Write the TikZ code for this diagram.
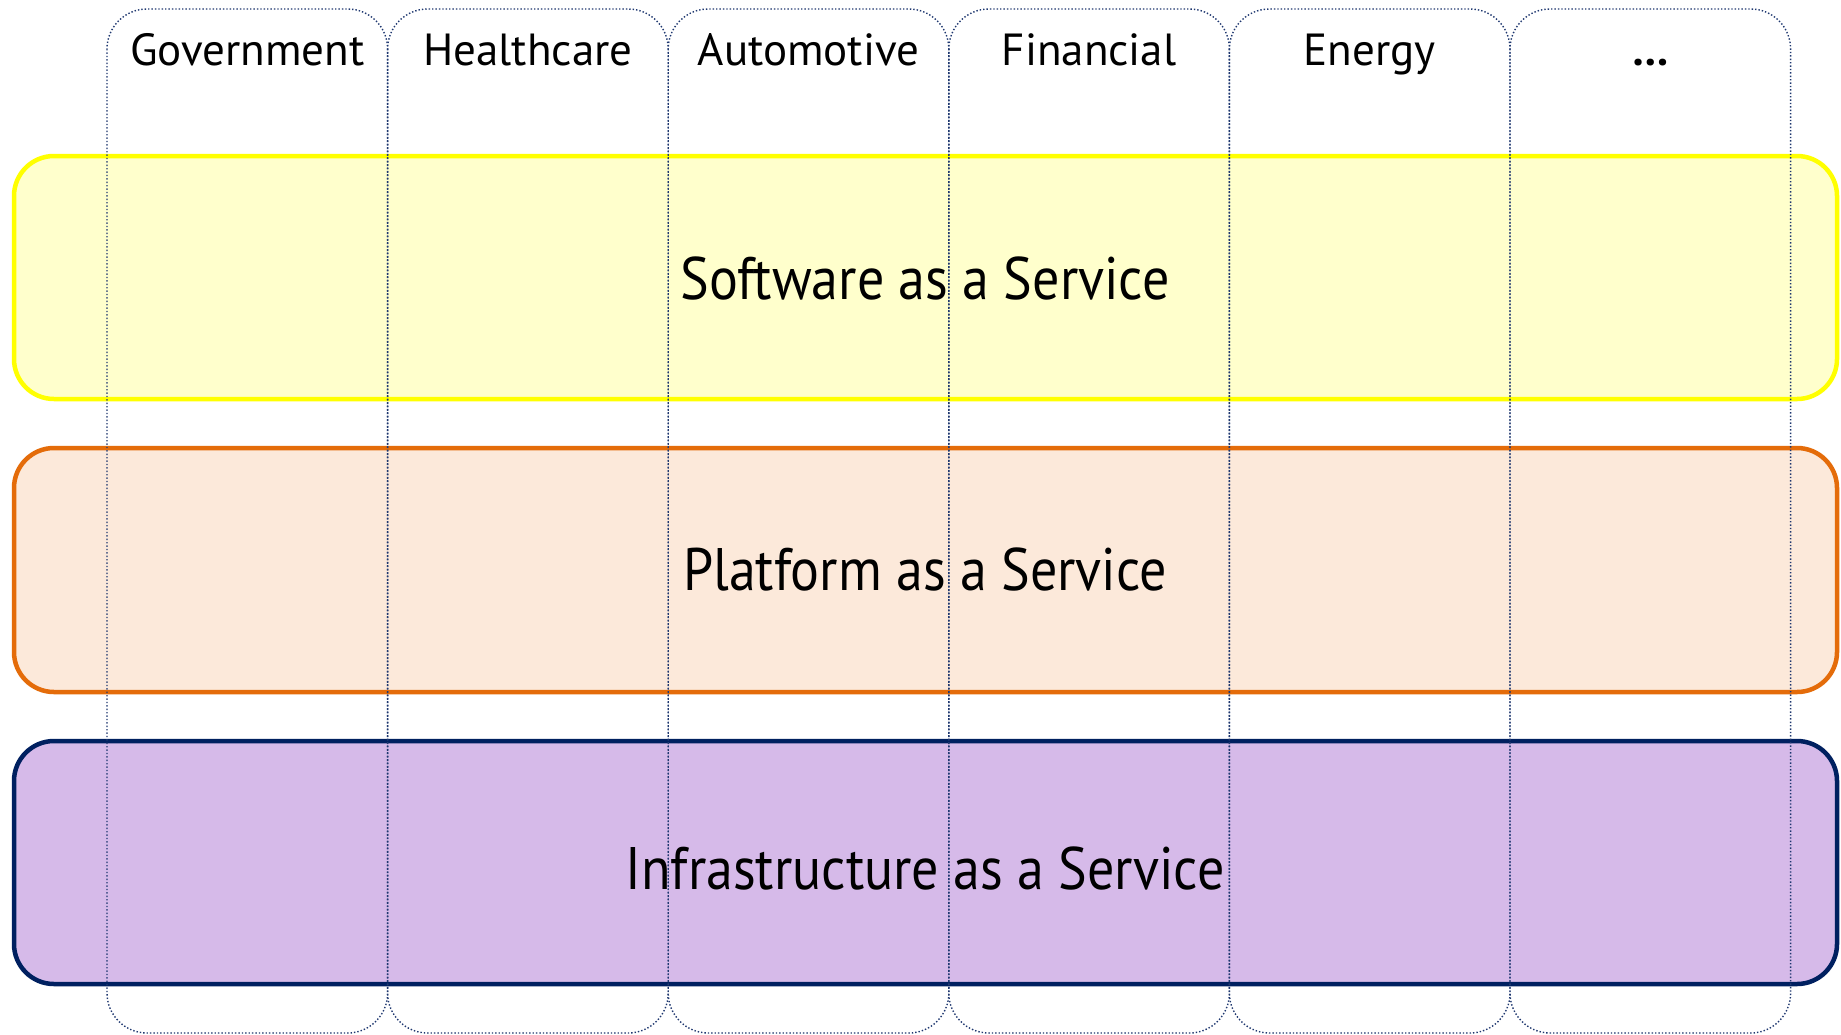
\documentclass[tikz,border=0pt]{standalone}
\usepackage{fontspec}
\setmainfont{PT Sans}
\definecolor{yelS}{HTML}{FFFF00}
\definecolor{yelF}{HTML}{FFFFCC}
\definecolor{oraS}{HTML}{E46C0A}
\definecolor{oraF}{HTML}{FCE9DA}
\definecolor{purS}{HTML}{002060}
\definecolor{purF}{HTML}{D6BAE9}
\definecolor{colS}{HTML}{1F3870}
\newcommand{\narrowtxt}[1]{\scalebox{0.9}[1]{#1}}
\begin{document}
\begin{tikzpicture}[x=1pt,y=-1pt,
  layer/.style={rounded corners=40pt,line width=4.5pt},
  column/.style={rounded corners=40pt,draw=colS,line width=1.4pt,dotted},
  bigtxt/.style={anchor=base,font=\fontsize{60}{72}\selectfont,inner sep=0pt},
  headtxt/.style={anchor=base,font=\fontsize{45}{52}\selectfont,inner sep=0pt}]
\useasboundingbox[fill=white] (0,0) rectangle (1841,1034);
% layers
\draw[layer,draw=yelS,fill=yelF] (14,156) rectangle (1837,399);
\draw[layer,draw=oraS,fill=oraF] (14,448) rectangle (1837,692);
\draw[layer,draw=purS,fill=purF] (14,741) rectangle (1837,984);
\node[bigtxt] (saas) at (925,299) {\narrowtxt{Software as a Service}};
\node[bigtxt] (paas) at (925,590) {\narrowtxt{Platform as a Service}};
\node[bigtxt] (iaas) at (925,889) {\narrowtxt{Infrastructure as a Service}};
% columns
\foreach \i/\t in {0/Government,1/Healthcare,2/Automotive,3/Financial,4/Energy,5/{\textbf{\dots}}}{
  \pgfmathsetmacro{\xl}{107+\i*280.6}
  \pgfmathsetmacro{\xr}{\xl+280.6}
  \pgfmathsetmacro{\xc}{\xl+140.3}
  \draw[column] (\xl,9) rectangle (\xr,1033);
  \node[headtxt] (h\i) at (\xc,65) {\t};
}
\end{tikzpicture}
\end{document}
